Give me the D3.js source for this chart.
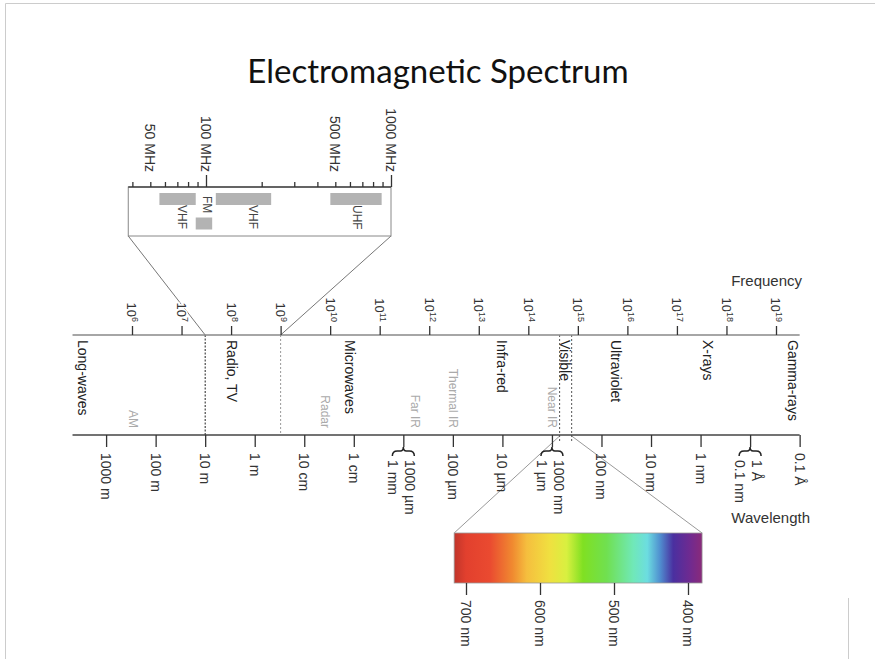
<!DOCTYPE html>
<html lang="en">
<head>
<meta charset="UTF-8">
<title>Electromagnetic Spectrum</title>
<script src="https://cdn.jsdelivr.net/npm/d3@7"></script>
<style>
  body { margin: 0; background: #fff; }
  text { font-family: "Liberation Sans", Arial, sans-serif; }
</style>
</head>
<body>
<script>
    // frequency ticks (powers of ten, Hz)
    var freqExp = [6,7,8,9,10,11,12,13,14,15,16,17,18,19];
    // wavelength ticks in metres, with their labels (two lines -> brace)
    var wlMeters = [1000,100,10,1,0.1,0.01,0.001,1e-4,1e-5,1e-6,1e-7,1e-8,1e-9,1e-10,1e-11];
    var wlLabels = [["1000 m"],["100 m"],["10 m"],["1 m"],["10 cm"],["1 cm"],["1000 µm","1 mm"],["100 µm"],
                    ["10 µm"],["1000 nm","1 µm"],["100 nm"],["10 nm"],["1 nm"],["1 Å","0.1 nm"],["0.1 Å"]];
    // main bands, placed at a frequency (Hz)
    var bandNames = ["Long-waves","Radio, TV","Microwaves","Infra-red","Visible","Ultraviolet","X-rays","Gamma-rays"];
    var bandFreqs = [1.04e5,1.06e8,2.5e10,2.95e13,5.4e14,6e15,4.3e17,2.2e19];
    // sub bands (grey)
    var subNames = ["AM","Radar","Far IR","Thermal IR","Near IR"];
    var subFreqs = [1.06e6,7.9e9,5.2e11,3.04e12,3.0e14];
    // inset: radio bands in MHz
    var mhzMinor = [40,50,60,70,80,90,200,300,400,500,600,700,800,900];
    var mhzMajor = [100,1000];
    var mhzLabelValues = [50,100,500,1000];
    var rBandNames = ["VHF","FM","VHF","UHF"];
    var rBandStart = [56,88,113,470];
    var rBandEnd = [88,108,225,890];
    var rBandRow = [0,1,0,0];
    var rBandLabelAt = [74,101,180,653];
    // visible light (nm)
    var visibleNm = [700,400];
    var spectrumTicks = [700,600,500,400];
    var spectrumStopNm = [716,700,668,637,618,587,564,542,510,474,455,438,420,397,381];
    var spectrumStopColor = ["#c0352b","#e2402e","#ea4a30","#f08a30","#f5be3e","#f0e040","#d8f040","#80e022",
                             "#70e050","#70e8b8","#6cdde0","#5090d0","#4a30a0","#702a90","#8a2a7a"];

    var width = 875, height = 659;
    var c = 3e8;
    var svg = d3.select("body").append("svg")
        .attr("width", width)
        .attr("height", height);

    // page frame
    svg.append("path").attr("d", "M5.5,659 L5.5,3.5 L875,3.5")
        .attr("fill", "none").attr("stroke", "#ccc");
    svg.append("line").attr("x1", 848.5).attr("x2", 848.5).attr("y1", 598).attr("y2", 659)
        .attr("stroke", "#ccc");

    svg.append("text").attr("x", 438).attr("y", 83)
        .attr("text-anchor", "middle")
        .style("font-family", "Lato, 'Open Sans', sans-serif")
        .style("font-size", "33px")
        .attr("fill", "#111")
        .text("Electromagnetic Spectrum");

    var freqY = 335, wlY = 435;
    var xFreq = d3.scaleLog().domain([1e6, 1e19]).range([132, 776]);
    var xWl = d3.scaleLog().domain([c / 1e6, c / 1e19]).range([132, 776]);

    // connectors first so labels sit on top
    var mhz = d3.scaleLog().domain([100, 1000]).range([206, 391]);
    var boxTop = 187, boxBottom = 236;
    var boxLeft = mhz(38), boxRight = mhz(1000);
    svg.append("line").attr("x1", boxLeft).attr("y1", boxBottom)
        .attr("x2", xWl(10)).attr("y2", freqY).attr("stroke", "#777");
    svg.append("line").attr("x1", boxRight).attr("y1", boxBottom)
        .attr("x2", xFreq(1e9)).attr("y2", freqY).attr("stroke", "#777");

    var nm = d3.scaleLinear().domain([700, 400]).range([466, 688]);
    var specTop = 533, specBottom = 583;
    svg.append("line").attr("x1", xWl(visibleNm[0] * 1e-9)).attr("y1", wlY + 1)
        .attr("x2", nm(716)).attr("y2", specTop).attr("stroke", "#999");
    svg.append("line").attr("x1", xWl(visibleNm[1] * 1e-9)).attr("y1", wlY + 1)
        .attr("x2", nm(381)).attr("y2", specTop).attr("stroke", "#999");

    // boundary lines between the two axes
    svg.append("line").attr("x1", xWl(10)).attr("x2", xWl(10)).attr("y1", freqY).attr("y2", wlY)
        .attr("stroke", "#222").attr("stroke-dasharray", "2,1.5");
    svg.append("line").attr("x1", xFreq(1e9)).attr("x2", xFreq(1e9)).attr("y1", freqY).attr("y2", wlY)
        .attr("stroke", "#999").attr("stroke-dasharray", "2,2");
    visibleNm.forEach(function(v) {
        svg.append("line").attr("x1", xWl(v * 1e-9)).attr("x2", xWl(v * 1e-9))
            .attr("y1", freqY).attr("y2", wlY + 6)
            .attr("stroke", "#555").attr("stroke-dasharray", "2,2");
    });

    // frequency axis
    svg.append("line").attr("x1", xFreq(6.3e4)).attr("x2", xFreq(3e19))
        .attr("y1", freqY).attr("y2", freqY).attr("stroke", "#888").attr("stroke-width", 1.5);
    var fAxis = svg.append("g").attr("transform", "translate(0," + freqY + ")")
        .call(d3.axisTop(xFreq).tickValues(freqExp.map(function(e) { return Math.pow(10, e); }))
            .tickSize(9).tickFormat(""));
    fAxis.select(".domain").remove();
    fAxis.selectAll(".tick line").attr("stroke", "#333").attr("stroke-width", 1.3);
    var fLab = svg.selectAll(".flab").data(freqExp).enter().append("text")
        .attr("class", "flab")
        .attr("transform", function(d) { return "translate(" + xFreq(Math.pow(10, d)) + "," + (freqY - 13) + ") rotate(90)"; })
        .attr("text-anchor", "end").attr("dy", "0.35em")
        .attr("fill", "#333").style("font-size", "13px")
        .attr("stroke", "#fff").attr("stroke-width", 3).attr("paint-order", "stroke");
    fLab.append("tspan").text("10");
    fLab.append("tspan").attr("baseline-shift", "super").style("font-size", "9px").text(function(d) { return d; });

    svg.append("text").attr("x", 802).attr("y", 286).attr("text-anchor", "end")
        .attr("fill", "#333").style("font-size", "15px").text("Frequency");

    // wavelength axis
    svg.append("line").attr("x1", xFreq(6.3e4)).attr("x2", xFreq(3e19))
        .attr("y1", wlY).attr("y2", wlY).attr("stroke", "#444").attr("stroke-width", 1.5);
    var wAxis = svg.append("g").attr("transform", "translate(0," + wlY + ")")
        .call(d3.axisBottom(xWl).tickValues(wlMeters).tickSize(12).tickFormat(""));
    wAxis.select(".domain").remove();
    wAxis.selectAll(".tick line").attr("stroke", "#333").attr("stroke-width", 1.3);

    wlMeters.forEach(function(m, i) {
        var x = xWl(m), lines = wlLabels[i];
        var y0 = lines.length > 1 ? wlY + 25 : wlY + 18;
        if (lines.length > 1) {
            var b = wlY + 12;
            svg.append("path")
                .attr("d", "M" + (x - 11) + "," + (b + 9) + " Q" + (x - 11) + "," + (b + 4) + " " + (x - 6) + "," + (b + 4) +
                    " L" + (x - 3) + "," + (b + 4) + " Q" + x + "," + (b + 4) + " " + x + "," + b +
                    " Q" + x + "," + (b + 4) + " " + (x + 3) + "," + (b + 4) + " L" + (x + 6) + "," + (b + 4) +
                    " Q" + (x + 11) + "," + (b + 4) + " " + (x + 11) + "," + (b + 9))
                .attr("fill", "none").attr("stroke", "#222").attr("stroke-width", 1.5);
        }
        var t = svg.append("text")
            .attr("transform", "translate(" + x + "," + y0 + ") rotate(90)")
            .attr("fill", "#333").style("font-size", "14px");
        lines.forEach(function(s, j) {
            t.append("tspan").attr("x", 0)
                .attr("dy", j === 0 ? (lines.length > 1 ? "-2" : "5") : "17")
                .text(s);
        });
    });

    svg.append("text").attr("x", 810).attr("y", 523).attr("text-anchor", "end")
        .attr("fill", "#333").style("font-size", "15px").text("Wavelength");

    // band names
    svg.selectAll(".band").data(bandNames).enter().append("text")
        .attr("transform", function(d, i) { return "translate(" + xFreq(bandFreqs[i]) + "," + (freqY + 5) + ") rotate(90)"; })
        .attr("dy", "0.35em").attr("fill", "#222").style("font-size", "14px")
        .text(function(d) { return d; });
    svg.selectAll(".sub").data(subNames).enter().append("text")
        .attr("transform", function(d, i) { return "translate(" + xFreq(subFreqs[i]) + "," + (wlY - 7) + ") rotate(90)"; })
        .attr("dy", "0.35em").attr("text-anchor", "end").attr("fill", "#aaa").style("font-size", "12px")
        .text(function(d) { return d; });

    // inset (radio frequencies)
    svg.append("rect").attr("x", boxLeft).attr("y", boxTop)
        .attr("width", boxRight - boxLeft).attr("height", boxBottom - boxTop)
        .attr("fill", "none").attr("stroke", "#888");
    svg.append("line").attr("x1", boxLeft).attr("x2", boxRight).attr("y1", boxTop).attr("y2", boxTop)
        .attr("stroke", "#444").attr("stroke-width", 1.3);
    var minorAxis = svg.append("g").attr("transform", "translate(0," + boxTop + ")")
        .call(d3.axisTop(mhz).tickValues(mhzMinor).tickSize(5).tickFormat(""));
    var majorAxis = svg.append("g").attr("transform", "translate(0," + boxTop + ")")
        .call(d3.axisTop(mhz).tickValues(mhzMajor).tickSize(12).tickFormat(""));
    minorAxis.select(".domain").remove();
    majorAxis.select(".domain").remove();
    svg.selectAll(".tick line").attr("stroke", "#333").attr("stroke-width", 1.3);

    svg.selectAll(".mlab").data(mhzLabelValues).enter().append("text")
        .attr("transform", function(d) { return "translate(" + mhz(d) + "," + (boxTop - 15) + ") rotate(90)"; })
        .attr("text-anchor", "end").attr("dy", "0.35em")
        .attr("fill", "#333").style("font-size", "14px")
        .text(function(d) { return d + " MHz"; });

    svg.selectAll(".rband").data(rBandNames).enter().append("rect")
        .attr("x", function(d, i) { return mhz(rBandStart[i]); })
        .attr("width", function(d, i) { return mhz(rBandEnd[i]) - mhz(rBandStart[i]); })
        .attr("y", function(d, i) { return rBandRow[i] ? 217.5 : 193; })
        .attr("height", 12)
        .attr("fill", "#b3b3b3");
    svg.selectAll(".rlab").data(rBandNames).enter().append("text")
        .attr("transform", function(d, i) { return "translate(" + mhz(rBandLabelAt[i]) + "," + (rBandRow[i] ? 196 : 205) + ") rotate(90)"; })
        .attr("dy", "0.35em").attr("fill", "#444").style("font-size", "12px")
        .text(function(d) { return d; });

    // visible spectrum bar
    var grad = svg.append("defs").append("linearGradient").attr("id", "spec")
        .attr("gradientUnits", "userSpaceOnUse")
        .attr("x1", nm(716)).attr("x2", nm(381)).attr("y1", 0).attr("y2", 0);
    grad.selectAll("stop").data(spectrumStopNm).enter().append("stop")
        .attr("offset", function(d) { return (nm(d) - nm(716)) / (nm(381) - nm(716)); })
        .attr("stop-color", function(d, i) { return spectrumStopColor[i]; });
    svg.append("rect").attr("x", nm(716)).attr("y", specTop)
        .attr("width", nm(381) - nm(716)).attr("height", specBottom - specTop)
        .attr("fill", "url(#spec)").attr("stroke", "#999").attr("stroke-width", 0.8);
    var sAxis = svg.append("g").attr("transform", "translate(0," + specBottom + ")")
        .call(d3.axisBottom(nm).tickValues(spectrumTicks).tickSize(12).tickFormat(""));
    sAxis.select(".domain").remove();
    sAxis.selectAll(".tick line").attr("stroke", "#333").attr("stroke-width", 1.3);
    svg.selectAll(".slab").data(spectrumTicks).enter().append("text")
        .attr("transform", function(d) { return "translate(" + nm(d) + "," + (specBottom + 17) + ") rotate(90)"; })
        .attr("dy", "0.35em").attr("fill", "#333").style("font-size", "14px")
        .text(function(d) { return d + " nm"; });
</script>
</body>
</html>
